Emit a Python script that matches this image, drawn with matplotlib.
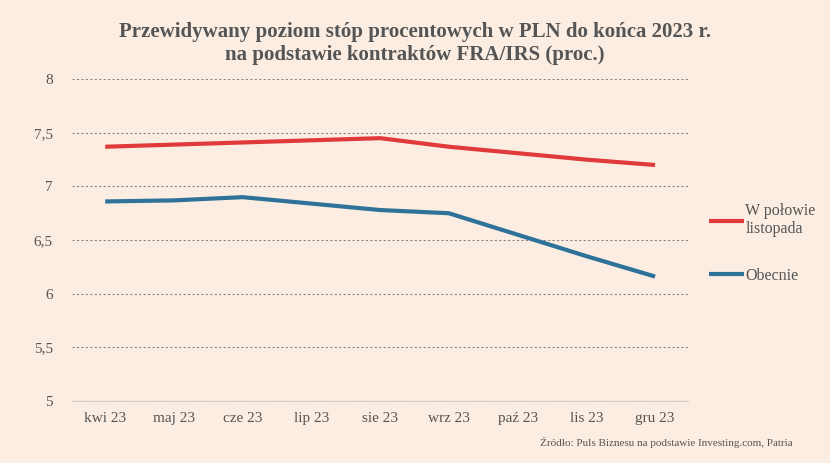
import matplotlib
matplotlib.use("Agg")
from matplotlib import pyplot as plt

months = ["kwi 23", "maj 23", "cze 23", "lip 23", "sie 23", "wrz 23", "paź 23", "lis 23", "gru 23"]
mid_november = [7.37, 7.39, 7.41, 7.43, 7.45, 7.37, 7.31, 7.25, 7.20]
current = [6.86, 6.87, 6.90, 6.84, 6.78, 6.75, 6.55, 6.35, 6.16]
yticks = [5, 5.5, 6, 6.5, 7, 7.5, 8]
ytick_labels = ["5", "5,5", "6", "6,5", "7", "7,5", "8"]

bg = "#fbede1"
txt = "#555555"
plt.rcParams["font.family"] = ["Liberation Serif", "DejaVu Serif"]

fig = plt.figure(figsize=(8.3, 4.63), dpi=100, facecolor=bg)
ax = fig.add_axes([0.087, 0.134, 0.742, 0.695], facecolor=bg)

x = range(len(months))
ax.plot(x, mid_november, color="#e03a3a", lw=3, label="W połowie\nlistopada", solid_capstyle="butt")
ax.plot(x, current, color="#2e7299", lw=3, label="Obecnie", solid_capstyle="butt")

ax.set_ylim(5, 8)
ax.set_xlim(-0.48, 8.48)
ax.set_yticks(yticks)
ax.set_yticklabels(ytick_labels)
ax.set_xticks(list(x))
ax.set_xticklabels(months)
ax.grid(axis="y", color="#888888", ls=(0, (2, 2)), lw=0.8)
ax.set_axisbelow(True)
for s in ["top", "right", "left"]:
    ax.spines[s].set_visible(False)
ax.spines["bottom"].set_color("#d8d0c8")
ax.tick_params(length=0, colors=txt, labelsize=11, pad=8)
ax.tick_params(axis="y", pad=14)

leg = ax.legend(loc="center left", bbox_to_anchor=(1.01, 0.49), frameon=False,
                handlelength=2.2, handletextpad=0.1, labelspacing=1.9, fontsize=11.5)
for t in leg.get_texts():
    t.set_color(txt)

fig.text(0.5, 0.905, "Przewidywany poziom stóp procentowych w PLN do końca 2023 r.\nna podstawie kontraktów FRA/IRS (proc.)",
         ha="center", va="center", fontsize=15, fontweight="bold", color=txt, linespacing=1.2)
fig.text(0.955, 0.045, "Źródło: Puls Biznesu na podstawie Investing.com, Patria",
         ha="right", va="center", fontsize=8, color=txt)

fig.savefig("out.png", dpi=100, facecolor=bg)
